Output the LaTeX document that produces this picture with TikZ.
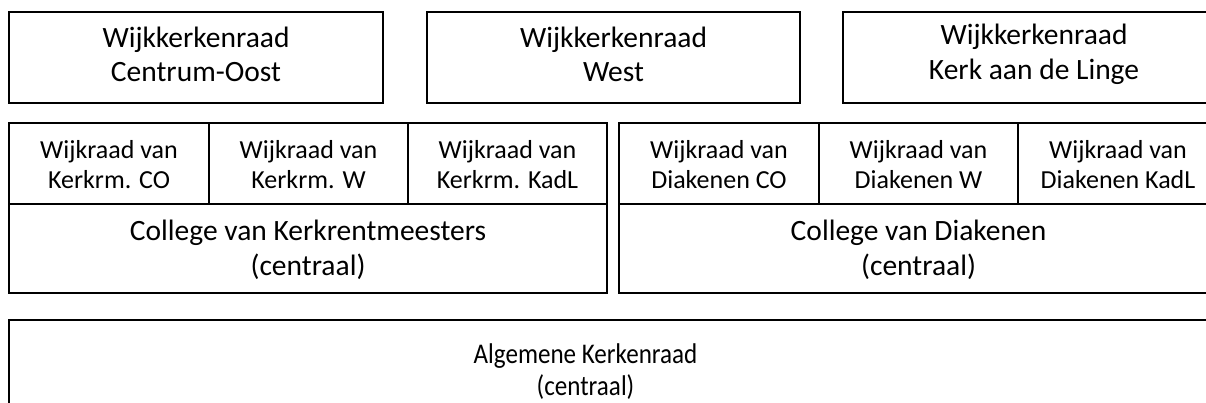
\documentclass[tikz,border=0pt]{standalone}
\usepackage{graphicx}
\usepackage{fontspec}
\setmainfont{Carlito}
\begin{document}
\begin{tikzpicture}[x=1pt,y=-1pt,
  box/.style={draw=black,line width=2.1pt,rectangle,inner sep=0pt},
  lbl/.style={align=center,inner sep=0pt},
  big/.style={lbl,font=\fontsize{29.5}{34.5}\selectfont},
  small/.style={lbl,font=\fontsize{26}{30}\selectfont},
  low/.style={lbl,font=\fontsize{28.5}{32}\selectfont},
]
\useasboundingbox (0,0) rectangle (1206,403);
\clip (0,0) rectangle (1206,403);
% top row
\node[box,minimum width=374pt,minimum height=91pt] (wa) at (196,57.5) {};
\node[box,minimum width=373pt,minimum height=91pt] (wb) at (613.5,57.5) {};
\node[box,minimum width=382pt,minimum height=91pt] (wc) at (1034,57.5) {};
\node[big] (wat) at ([yshift=3pt]wa.center) {Wijkkerkenraad\\Centrum-Oost};
\node[big] (wbt) at ([yshift=3pt]wb.center) {Wijkkerkenraad\\West};
\node[big] (wct) at ([yshift=3pt]wc.center) {Wijkkerkenraad\\Kerk aan de Linge};
% left group
\node[box,minimum width=200pt,minimum height=81pt] (k1) at (109,163.5) {};
\node[box,minimum width=199pt,minimum height=81pt] (k2) at (308.5,163.5) {};
\node[box,minimum width=199pt,minimum height=81pt] (k3) at (507.5,163.5) {};
\node[box,minimum width=598pt,minimum height=89pt] (ck) at (308,248.5) {};
\node[small] (k1t) at ([yshift=-1pt]k1.center) {Wijkraad van\\Kerkrm. CO};
\node[small] (k2t) at ([yshift=-1pt]k2.center) {Wijkraad van\\Kerkrm. W};
\node[small] (k3t) at ([yshift=-1pt]k3.center) {Wijkraad van\\Kerkrm. KadL};
\node[big] (ckt) at ([yshift=-1.5pt]ck.center) {College van Kerkrentmeesters\\(centraal)};
% right group
\node[box,minimum width=200pt,minimum height=81pt] (d1) at (719,163.5) {};
\node[box,minimum width=199pt,minimum height=81pt] (d2) at (918.5,163.5) {};
\node[box,minimum width=200pt,minimum height=81pt] (d3) at (1118,163.5) {};
\node[box,minimum width=599pt,minimum height=89pt] (cd) at (918.5,248.5) {};
\node[small] (d1t) at ([yshift=-1pt]d1.center) {Wijkraad van\\Diakenen CO};
\node[small] (d2t) at ([yshift=-1pt]d2.center) {Wijkraad van\\Diakenen W};
\node[small] (d3t) at ([yshift=-1pt]d3.center) {Wijkraad van\\Diakenen KadL};
\node[big] (cdt) at ([yshift=-1.5pt]cd.center) {College van Diakenen\\(centraal)};
% bottom
\node[box,minimum width=1216pt,minimum height=105pt] (ak) at (617,372.5) {};
\node[low] (akt) at (585.5,371.5) {\scalebox{0.88}[1]{Algemene Kerkenraad}\\\scalebox{0.88}[1]{(centraal)}};
\end{tikzpicture}
\end{document}
